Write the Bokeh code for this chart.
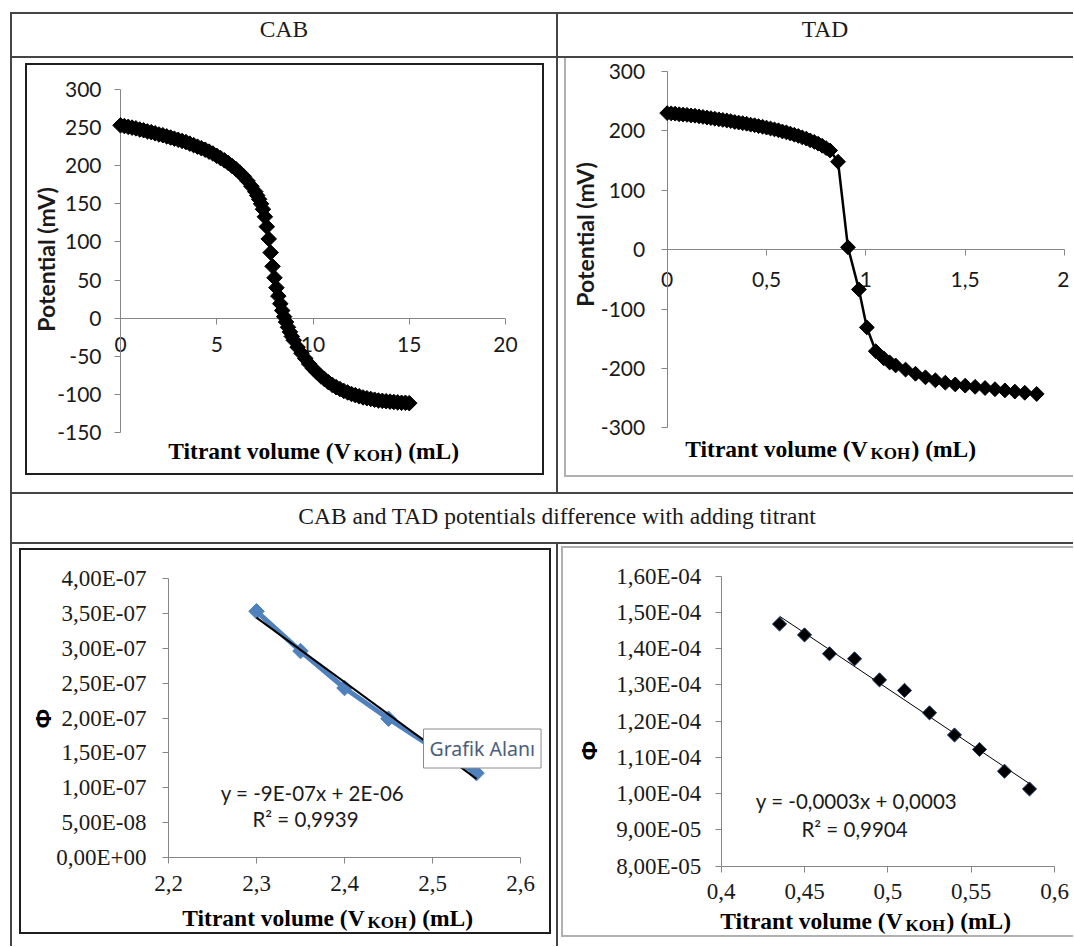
import math
import numpy as np
from bokeh.plotting import figure
from bokeh.models import Range1d, FixedTicker, Label, Div, Spacer, Row, Column
from bokeh.embed import file_html
from bokeh.resources import INLINE

# ---------------- data ----------------
cab_x = [0.0, 0.2, 0.4, 0.6, 0.8, 1.0, 1.2, 1.4, 1.6, 1.8, 2.0, 2.2, 2.4, 2.6, 2.8, 3.0,
         3.2, 3.4, 3.6, 3.8, 4.0, 4.2, 4.4, 4.6, 4.8, 5.0, 5.2, 5.4, 5.6, 5.8, 6.0, 6.2,
         6.4, 6.6, 6.8, 7.0, 7.1, 7.2, 7.3, 7.4, 7.5, 7.6, 7.7, 7.8, 7.9, 8.0, 8.1, 8.2,
         8.3, 8.4, 8.5, 8.6, 8.7, 8.8, 8.9, 9.0, 9.2, 9.4, 9.6, 9.8, 10.0, 10.2, 10.4,
         10.6, 10.8, 11.0, 11.2, 11.4, 11.6, 11.8, 12.0, 12.2, 12.4, 12.6, 12.8, 13.0,
         13.2, 13.4, 13.6, 13.8, 14.0, 14.2, 14.4, 14.6, 14.8, 15.0]
cab_y = [253, 252, 251, 250, 249, 247.5, 246.5, 245, 244, 242.5, 241, 240, 238.5, 237,
         235.5, 234, 232.5, 231, 229, 227, 225, 223, 221, 218.5, 216, 213, 210, 207, 203.5,
         199.5, 195.5, 191, 186, 180, 173, 166, 161, 156, 150, 143, 133, 120, 104, 86, 68,
         53, 40, 29, 19, 10, 2, -5, -12, -18, -24, -29, -38, -46, -53, -60, -66, -71, -76,
         -80, -84, -87.5, -90.5, -93, -95.5, -97.5, -99.5, -101, -102.5, -104, -105, -106,
         -107, -108, -108.5, -109, -109.5, -110, -110.5, -111, -111, -111.5]

tad_x = [0.00, 0.02, 0.04, 0.06, 0.08, 0.10, 0.12, 0.14, 0.16, 0.18, 0.20, 0.22, 0.24,
         0.26, 0.28, 0.30, 0.32, 0.34, 0.36, 0.38, 0.40, 0.42, 0.44, 0.46, 0.48, 0.50,
         0.52, 0.54, 0.56, 0.58, 0.60, 0.62, 0.64, 0.66, 0.68, 0.70, 0.72, 0.74, 0.76,
         0.78, 0.80, 0.82, 0.86, 0.91, 0.965, 1.005, 1.05, 1.09, 1.12, 1.15, 1.20, 1.25,
         1.30, 1.35, 1.40, 1.45, 1.50, 1.55, 1.60, 1.65, 1.70, 1.75, 1.80, 1.86]
tad_y = [230, 229.5, 229, 228, 227.5, 227, 226, 225.5, 224.5, 223.5, 222.5, 221.5, 220.5,
         219.5, 218.5, 217.5, 216.5, 215, 214, 213, 212, 210.5, 209.5, 208, 207, 205.5,
         204, 202.5, 201, 199, 197.5, 195.5, 193.5, 191.5, 189, 187, 184, 181.5, 178.5,
         175, 171, 167, 148, 4, -67, -131, -171, -183, -190, -195, -202, -209, -215,
         -220, -224, -227, -229, -231, -233, -235, -237, -239, -241, -243]

bl_x = [2.30, 2.35, 2.40, 2.45, 2.50, 2.55]
bl_y = [3.53e-07, 2.96e-07, 2.43e-07, 1.99e-07, 1.58e-07, 1.21e-07]

br_x = [0.435, 0.45, 0.465, 0.48, 0.495, 0.51, 0.525, 0.54, 0.555, 0.57, 0.585]
br_y = [1.468e-04, 1.438e-04, 1.386e-04, 1.372e-04, 1.314e-04, 1.285e-04, 1.223e-04,
        1.162e-04, 1.122e-04, 1.062e-04, 1.013e-04]

cab_xticks = [0, 5, 10, 15, 20]
cab_xlabels = ["0", "5", "10", "15", "20"]
cab_yticks = [-150, -100, -50, 0, 50, 100, 150, 200, 250, 300]
cab_ylabels = ["-150", "-100", "-50", "0", "50", "100", "150", "200", "250", "300"]

tad_xticks = [0, 0.5, 1, 1.5, 2]
tad_xlabels = ["0", "0,5", "1", "1,5", "2"]
tad_yticks = [-300, -200, -100, 0, 100, 200, 300]
tad_ylabels = ["-300", "-200", "-100", "0", "100", "200", "300"]

bl_xticks = [2.2, 2.3, 2.4, 2.5, 2.6]
bl_xlabels = ["2,2", "2,3", "2,4", "2,5", "2,6"]
bl_yticks = [0.0, 5e-08, 1e-07, 1.5e-07, 2e-07, 2.5e-07, 3e-07, 3.5e-07, 4e-07]
bl_ylabels = ["0,00E+00", "5,00E-08", "1,00E-07", "1,50E-07", "2,00E-07", "2,50E-07",
              "3,00E-07", "3,50E-07", "4,00E-07"]

br_xticks = [0.4, 0.45, 0.5, 0.55, 0.6]
br_xlabels = ["0,4", "0,45", "0,5", "0,55", "0,6"]
br_yticks = [8e-05, 9e-05, 1e-04, 1.1e-04, 1.2e-04, 1.3e-04, 1.4e-04, 1.5e-04, 1.6e-04]
br_ylabels = ["8,00E-05", "9,00E-05", "1,00E-04", "1,10E-04", "1,20E-04", "1,30E-04",
              "1,40E-04", "1,50E-04", "1,60E-04"]

# ---------------- helpers ----------------
LINE = "#454545"
GRAY = "#b0b0b0"
AXIS = "#868686"
TXT = "#1a1a1a"
SANS = "Lato"
SERIF = "Liberation Serif"
NOSTYLE = {"border": "none", "outline": "none", "box-shadow": "none"}


def blank(w, h):
    return Spacer(width=w, height=h, margin=0)


def bar(w, h, c=LINE):
    return Div(text="", width=w, height=h, margin=0, styles={"background-color": c})


def R(*ch):
    return Row(children=list(ch), spacing=0, margin=0)


def C(*ch):
    return Column(children=list(ch), spacing=0, margin=0)


def header(w, h, text, pad_left, pad_top):
    html = ('<div style="box-sizing:border-box;width:%dpx;padding-left:%dpx;padding-top:%dpx;'
            'text-align:center;font-family:\'Liberation Serif\';font-size:23.5px;line-height:26px;'
            'color:#1a1a1a;white-space:nowrap;">%s</div>' % (w, pad_left, pad_top, text))
    return Div(text=html, width=w, height=h, margin=0, styles={"overflow": "hidden"})


def make_chart(left, top, w, h, xcal, ycal, outline):
    xv0, xp0, xv1, xp1 = xcal
    yv0, yp0, yv1, yp1 = ycal
    kx = (xp1 - xp0) / (xv1 - xv0)
    ky = (yp0 - yp1) / (yv1 - yv0)
    xr = Range1d(xv0 - (xp0 - left) / kx, xv0 + (left + w - xp0) / kx)
    yr = Range1d(yv0 - (top + h - yp0) / ky, yv0 + (yp0 - top) / ky)
    p = figure(width=w, height=h, x_range=xr, y_range=yr, output_backend="svg",
               toolbar_location=None, min_border=0, margin=0,
               background_fill_color="white", border_fill_color="white", styles=NOSTYLE)
    p.grid.visible = False
    if outline:
        p.outline_line_color = "#1e1e1e"
        p.outline_line_width = 3
    else:
        p.outline_line_color = None

    def at(px, py):
        return xv0 + (px - xp0) / kx, yv0 + (yp0 - py) / ky
    return p, at


def style_axes(p, xt, xl, xcross, yt, yl, ycross, font, size, sx, sy):
    xa = p.xaxis[0]
    ya = p.yaxis[0]
    for ax, ticks, labels, cross in ((xa, xt, xl, xcross), (ya, yt, yl, ycross)):
        ax.fixed_location = cross
        ax.bounds = (min(ticks), max(ticks))
        ax.ticker = FixedTicker(ticks=ticks)
        ax.major_label_overrides = {t: s for t, s in zip(ticks, labels)}
        ax.axis_line_color = AXIS
        ax.axis_line_width = 1
        ax.major_tick_line_color = AXIS
        ax.major_tick_out = 6
        ax.major_tick_in = 0
        ax.minor_tick_out = 0
        ax.minor_tick_in = 0
        ax.major_label_text_font = font
        ax.major_label_text_font_size = size
        ax.major_label_text_color = TXT
        ax.axis_label = None
    xa.major_label_standoff = sx
    ya.major_label_standoff = sy


def x_title(p, at, px, py, koh_w=40):
    x, y = at(px, py)
    common = dict(x=x, y=y, text_font=SERIF, text_font_style="bold", text_color="black",
                  text_baseline="middle")
    p.add_layout(Label(text="Titrant volume  (V", text_align="right", text_font_size="23.5px",
                       **common))
    p.add_layout(Label(text="KOH", text_align="left", text_font_size="17px", x_offset=-3,
                       y_offset=-5, **common))
    p.add_layout(Label(text=") (mL)", text_align="left", text_font_size="23.5px",
                       x_offset=koh_w - 2, **common))


def text_at(p, at, px, py, text, **kw):
    x, y = at(px, py)
    opts = dict(text_align="center", text_baseline="middle", text_color=TXT)
    opts.update(kw)
    p.add_layout(Label(x=x, y=y, text=text, **opts))


def trend(xs, ys):
    m, b = np.polyfit(xs, ys, 1)
    return [xs[0], xs[-1]], [m * xs[0] + b, m * xs[-1] + b]


# ---------------- CAB ----------------
p1, at1 = make_chart(25, 63, 519, 412, (0, 120, 20, 505), (-150, 432, 300, 89), True)
style_axes(p1, cab_xticks, cab_xlabels, 0, cab_yticks, cab_ylabels, 0, SANS, "21px", 13, 13)
r = p1.line(cab_x, cab_y, line_color="black", line_width=2.5)
r.level = "overlay"
r = p1.scatter(cab_x, cab_y, marker="square", angle=math.pi / 4, size=11,
               fill_color="black", line_color="black")
r.level = "overlay"
text_at(p1, at1, 45, 259, "Potential (mV)", angle=math.pi / 2, text_font=SANS,
        text_font_style="bold", text_font_size="23px")
x_title(p1, at1, 356, 450)

# ---------------- TAD ----------------
p2, at2 = make_chart(566, 58, 503, 417, (0, 666.7, 2, 1064), (-300, 427.3, 300, 71), False)
style_axes(p2, tad_xticks, tad_xlabels, 0, tad_yticks, tad_ylabels, 0, SANS, "21px", 16, 16)
r = p2.line(tad_x, tad_y, line_color="black", line_width=2.5)
r.level = "overlay"
r = p2.scatter(tad_x, tad_y, marker="square", angle=math.pi / 4, size=10.5,
               fill_color="black", line_color="black")
r.level = "overlay"
text_at(p2, at2, 584, 234, "Potential (mV)", angle=math.pi / 2, text_font=SANS,
        text_font_style="bold", text_font_size="23px")
x_title(p2, at2, 873, 448)

# ---------------- bottom-left ----------------
p3, at3 = make_chart(19, 548, 532, 386, (2.2, 168, 2.6, 520), (0, 857, 4e-07, 578), True)
style_axes(p3, bl_xticks, bl_xlabels, 0, bl_yticks, bl_ylabels, 2.2, SERIF, "23px", 12, 16)
p3.line(bl_x, bl_y, line_color="#4f81bd", line_width=5)
p3.scatter(bl_x, bl_y, marker="square", angle=math.pi / 4, size=11,
           fill_color="#4f81bd", line_color="#4f81bd")
tx, ty = trend(bl_x, bl_y)
p3.line(tx, ty, line_color="black", line_width=2)
text_at(p3, at3, 41, 718, "Φ", angle=math.pi / 2, text_font="Noto Sans",
        text_font_style="bold", text_font_size="22px", text_color="black")
text_at(p3, at3, 312, 792, "y = -9E-07x + 2E-06", text_font=SANS, text_font_size="20.5px")
text_at(p3, at3, 305, 818, "R² = 0,9939", text_font=SANS, text_font_size="20.5px")
x_title(p3, at3, 370, 917)
gx, gy = at3(423, 748)
p3.add_layout(Label(x=gx, y=gy, text="Grafik Alanı", text_font="Noto Sans",
                    text_font_size="19.5px", text_color="#4c5d7a", text_align="left",
                    text_baseline="middle", background_fill_color="white",
                    border_line_color="#8c8c8c", border_line_width=1, padding=6))

# ---------------- bottom-right ----------------
p4, at4 = make_chart(563, 548, 506, 387, (0.4, 720.7, 0.6, 1054), (8e-05, 865.7, 1.6e-04, 575.7), False)
style_axes(p4, br_xticks, br_xlabels, 8e-05, br_yticks, br_ylabels, 0.4, SERIF, "23px", 12, 14)
tx, ty = trend(br_x, br_y)
p4.line(tx, ty, line_color="black", line_width=1)
p4.scatter(br_x, br_y, marker="square", angle=math.pi / 4, size=10,
           fill_color="black", line_color="#1f3864", line_width=1)
text_at(p4, at4, 587, 750, "Φ", angle=math.pi / 2, text_font="Noto Sans",
        text_font_style="bold", text_font_size="22px", text_color="black")
text_at(p4, at4, 856, 800, "y = -0,0003x + 0,0003", text_font=SANS, text_font_size="20.5px")
text_at(p4, at4, 854, 828, "R² = 0,9904", text_font=SANS, text_font_size="20.5px")
x_title(p4, at4, 908, 920)

# ---------------- table layout ----------------
cell_tl = C(blank(544, 5), R(blank(13, 412), p1, blank(12, 412)), blank(544, 17))
cell_tr = C(R(blank(6, 417), bar(2, 417, GRAY), p2, blank(4, 417)),
            R(blank(6, 2), bar(509, 2, GRAY)),
            blank(515, 15))
cell_bl = C(blank(544, 4), R(blank(7, 386), p3, blank(5, 386)), blank(544, 12))
cell_br = C(blank(515, 2),
            R(blank(3, 2), bar(512, 2, GRAY)),
            R(blank(3, 387), bar(2, 387, GRAY), p4, blank(4, 387)),
            R(blank(3, 2), bar(512, 2, GRAY)),
            blank(515, 9))


def hrule():
    return R(blank(10, 2), bar(1063, 2))


layout = C(
    blank(1073, 12),
    hrule(),
    R(blank(10, 42), bar(2, 42), header(544, 42, "CAB", 0, 2), bar(2, 42),
      header(515, 42, "TAD", 19, 2)),
    hrule(),
    R(blank(10, 434), bar(2, 434), cell_tl, bar(2, 434), cell_tr),
    hrule(),
    R(blank(10, 48), bar(2, 48),
      header(1061, 48, "CAB and TAD potentials difference with adding titrant", 29, 9)),
    hrule(),
    R(blank(10, 402), bar(2, 402), cell_bl, bar(2, 402), cell_br),
)

open("out.html", "w").write(file_html(layout, INLINE, title="CAB TAD"))
